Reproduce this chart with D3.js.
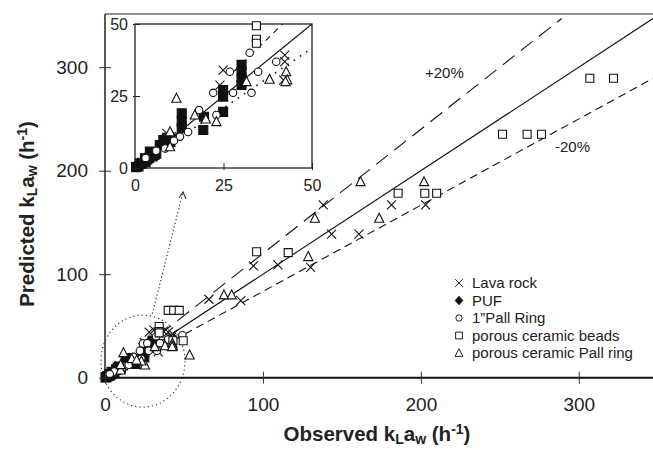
<!DOCTYPE html>
<html>
<head>
<meta charset="utf-8">
<script src="https://cdn.jsdelivr.net/npm/d3@7"></script>
<style>
body { margin: 0; background: #fff; }
text { font-family: "Liberation Sans", Arial, Helvetica, sans-serif; fill: #222; }
</style>
</head>
<body>
<div id="chart-container"></div>
<script>
// observed vs predicted kLaw (h-1), [observed, predicted]
var lava_rock = [[65.8,75.8],[86,74.5],[94,108],[109.5,109],[130.2,106.7],[138.2,166.9],[143.5,138.8],[160.8,138.8],[181.4,166.9],[203,166.9],
	[28,44],[31,46],[34,43],[37,45],[40,44],[43,42],[33.7,25]];
var ceramic_beads = [[40,65],[43.5,65],[47,65],[43,35.7],[49.5,35.7],[96,121.7],[116,120.8],[185.6,178.2],[202.5,178.2],[210,178.2],
	[251.7,235.2],[267.3,235.2],[276.4,235.2],[307,289.3],[322,289.3]];
var ceramic_pall = [[25.3,12.3],[53.6,21.9],[75.3,80],[80.2,80],[128.7,117],[132.9,154],[161.8,189.4],[173.6,154],[202,189.4]];
var pall_ring = [[24,33],[49,41]];

// inset (0-50), same series
var inset_puf = [[0.3,0.3],[1,0.5],[1.4,1.6],[2,1.5],[2.8,3.4],[3,2],[3.5,3],[4,3.5],[4.2,5.7],[5,4],[5.5,4.5],[6,5],[7,8],[8,9.7],[9,10.5],[10,9],
	[13.2,19],[13.2,16.1],[13.2,13.8],[19.3,13.2],[19.5,17.8],[24.9,27.1],[24.9,24.8],[24.9,19.5],[30.1,35.8],[30.1,33.4],[30.1,31.1],[30.1,28.8]];
var inset_lava = [[24.9,34],[24,28.8],[42.3,39.2],[42.3,36.9],[42,30.5],[10.3,10.9],[9,12],[11.5,11.5],[2,2],[5,5.5],[7.5,7]];
var inset_pall_ring = [[32.4,40],[26.8,33.4],[34.8,33.4],[39.9,36.9],[22.1,26.1],[27.7,26.1],[32.9,26.1],[18.1,20.1],[23,18.4],
	[12.7,10.9],[8.5,6.8],[11,9.5],[15,12.5],[6,6],[3,3.5]];
var inset_beads = [[34.3,49.4],[34.3,44.7],[34.3,43.3]];
var inset_ceramic_pall = [[11.7,24.2],[23,16.1],[31.5,30],[38,30.8],[42.7,33.4],[43,30.6],[42.5,30],[9.9,7.4],[9.9,12.6],[16.9,18.4],[20,17]];

var x_ticks = [0, 100, 200, 300];
var y_ticks = [0, 100, 200, 300];
var inset_ticks = [0, 25, 50];
var legend_labels = ["Lava rock", "PUF", "1\u201dPall Ring", "porous ceramic beads", "porous ceramic Pall ring"];
var legend_types = ["x", "diamond", "circle", "square", "triangle"];

var svg_width = 653;
var svg_height = 450;

var svg = d3.select("#chart-container")
	.append("svg")
	.attr("width", svg_width)
	.attr("height", svg_height);

var x = d3.scaleLinear().domain([0, 347]).range([105, 653]);
var y = d3.scaleLinear().domain([0, 351.4]).range([377.7, 14]);

var ix = d3.scaleLinear().domain([0, 50]).range([135, 312]);
var iy = d3.scaleLinear().domain([0, 50]).range([168, 24]);

function marker_path(type) {
	if (type == "x") return "M-4.5,-4.5L4.5,4.5M-4.5,4.5L4.5,-4.5";
	if (type == "square") return "M-4,-4H4V4H-4Z";
	if (type == "fsquare") return "M-4.5,-4.5H4.5V4.5H-4.5Z";
	if (type == "triangle") return "M0,-5L4.6,4L-4.6,4Z";
	if (type == "circle") return d3.symbol(d3.symbolCircle, 44)();
	if (type == "diamond") return "M0,-5L4.5,0L0,5L-4.5,0Z";
}

function draw_marks(g, data, type, sx, sy) {
	var filled = (type == "fsquare" || type == "diamond");
	g.append("g").selectAll("path")
		.data(data)
		.enter()
		.append("path")
		.attr("d", marker_path(type))
		.attr("transform", function(d) { return "translate(" + sx(d[0]) + "," + sy(d[1]) + ")"; })
		.attr("fill", filled ? "#111" : (type == "x" ? "none" : "#fff"))
		.attr("stroke", "#111")
		.attr("stroke-width", 1.1);
}

// main frame
svg.append("line").attr("x1", x(0)).attr("x2", svg_width).attr("y1", y(351.4)).attr("y2", y(351.4))
	.attr("stroke", "#222").attr("stroke-width", 1);
svg.append("line").attr("x1", x(0)).attr("x2", x(0)).attr("y1", y(351.4)).attr("y2", y(0))
	.attr("stroke", "#222").attr("stroke-width", 1.5);

// reference lines: 1:1, +20%, -20%
var line = d3.line().x(function(d) { return x(d[0]); }).y(function(d) { return y(d[1]); });
svg.append("path").attr("d", line([[0,0],[347,347]])).attr("stroke", "#111").attr("stroke-width", 1.1).attr("fill", "none");
svg.append("path").attr("d", line([[0,0],[347/1.2 ,347]])).attr("stroke", "#111").attr("stroke-width", 1.1)
	.attr("stroke-dasharray", "15,8").attr("fill", "none");
svg.append("path").attr("d", line([[0,0],[347,347/1.2]])).attr("stroke", "#111").attr("stroke-width", 1.1)
	.attr("stroke-dasharray", "8,5").attr("fill", "none");

svg.append("text").attr("x", 425).attr("y", 78).attr("font-size", 15).text("+20%");
svg.append("text").attr("x", 555).attr("y", 152).attr("font-size", 15).text("-20%");

// dotted zoom ellipse + arrow
svg.append("ellipse").attr("cx", x(24)).attr("cy", y(16)).attr("rx", 42).attr("ry", 46)
	.attr("fill", "none").attr("stroke", "#333").attr("stroke-width", 1.2).attr("stroke-dasharray", "1.2,3");
svg.append("line").attr("x1", x(30)).attr("y1", y(62)).attr("x2", x(49.4)).attr("y2", y(179.4))
	.attr("stroke", "#333").attr("stroke-width", 1.2).attr("stroke-dasharray", "1.2,2.5");
svg.append("path")
	.attr("d", "M" + (x(49.4) - 4) + "," + (y(179.4) + 6) + "L" + x(49.4) + "," + y(179.4) + "L" + (x(49.4) + 3) + "," + (y(179.4) + 7))
	.attr("stroke", "#333").attr("stroke-width", 1.1).attr("fill", "none");

// main markers
var gm = svg.append("g");
draw_marks(gm, inset_puf, "fsquare", x, y);
draw_marks(gm, lava_rock.concat(inset_lava), "x", x, y);
draw_marks(gm, pall_ring.concat(inset_pall_ring), "circle", x, y);
draw_marks(gm, ceramic_beads.concat(inset_beads), "square", x, y);
draw_marks(gm, ceramic_pall.concat(inset_ceramic_pall), "triangle", x, y);

// main axes
var xAxis = svg.append("g").attr("transform", "translate(0," + y(0) + ")")
	.call(d3.axisBottom(x).tickValues(x_ticks).tickSizeInner(5).tickSizeOuter(0).tickPadding(10));
xAxis.select(".domain").attr("d", "M" + x(0) + ",0H" + svg_width).attr("stroke", "#111").attr("stroke-width", 2);
xAxis.selectAll(".tick line").attr("y1", -6).attr("y2", 6).attr("stroke", "#333");
xAxis.selectAll(".tick text").attr("font-size", 19).attr("fill", "#222").attr("font-family", null).attr("dy", "0.95em");

var yAxis = svg.append("g").attr("transform", "translate(" + x(0) + ",0)")
	.call(d3.axisLeft(y).tickValues(y_ticks).tickSizeInner(5).tickSizeOuter(0).tickPadding(12));
yAxis.select(".domain").remove();
yAxis.selectAll(".tick line").attr("x1", -6).attr("x2", 6).attr("stroke", "#333");
yAxis.selectAll(".tick text").attr("font-size", 19).attr("fill", "#222").attr("font-family", null);

// axis titles
function title_spans(t, label) {
	t.append("tspan").text(label + " k");
	t.append("tspan").attr("baseline-shift", "-3").attr("font-size", 14).text("L");
	t.append("tspan").text("a");
	t.append("tspan").attr("baseline-shift", "-3").attr("font-size", 14).text("w");
	t.append("tspan").text(" (h");
	t.append("tspan").attr("baseline-shift", "7").attr("font-size", 14).text("-1");
	t.append("tspan").text(")");
}
var xt = svg.append("text").attr("x", 377).attr("y", 441).attr("text-anchor", "middle")
	.attr("font-size", 20.5).attr("font-weight", "bold");
title_spans(xt, "Observed");

var yt = svg.append("text").attr("transform", "translate(34,214) rotate(-90)").attr("text-anchor", "middle")
	.attr("font-size", 20.5).attr("font-weight", "bold");
title_spans(yt, "Predicted");

// legend
var legend = svg.append("g").selectAll("g")
	.data(legend_labels)
	.enter()
	.append("g")
	.attr("transform", function(d, i) { return "translate(459," + (283 + i * 17.5) + ")"; });
legend.append("path")
	.attr("d", function(d, i) { return marker_path(legend_types[i]); })
	.attr("transform", "scale(0.85)")
	.attr("fill", function(d, i) { return legend_types[i] == "diamond" ? "#111" : (legend_types[i] == "x" ? "none" : "#fff"); })
	.attr("stroke", "#111").attr("stroke-width", 1.1);
legend.append("text").attr("x", 13).attr("dy", "0.36em").attr("font-size", 15).text(function(d) { return d; });

// inset
var gi = svg.append("g");
gi.append("rect").attr("x", ix(0)).attr("y", iy(50)).attr("width", ix(50) - ix(0)).attr("height", iy(0) - iy(50))
	.attr("fill", "#fff").attr("stroke", "#222").attr("stroke-width", 1.3);

var iline = d3.line().x(function(d) { return ix(d[0]); }).y(function(d) { return iy(d[1]); });
gi.append("path").attr("d", iline([[0,0],[50,50]])).attr("stroke", "#111").attr("stroke-width", 1.1).attr("fill", "none");
gi.append("path").attr("d", iline([[28,33.6],[41.7,50]])).attr("stroke", "#111").attr("stroke-width", 1.1)
	.attr("stroke-dasharray", "6,5").attr("fill", "none");
gi.append("path").attr("d", iline([[15,12.5],[49,40.8]])).attr("stroke", "#111").attr("stroke-width", 1.6)
	.attr("stroke-dasharray", "1.5,6").attr("fill", "none");

draw_marks(gi, inset_puf, "fsquare", ix, iy);
draw_marks(gi, inset_lava, "x", ix, iy);
draw_marks(gi, inset_pall_ring, "circle", ix, iy);
draw_marks(gi, inset_beads, "square", ix, iy);
draw_marks(gi, inset_ceramic_pall, "triangle", ix, iy);

var ixAxis = gi.append("g").attr("transform", "translate(0," + iy(0) + ")")
	.call(d3.axisBottom(ix).tickValues(inset_ticks).tickSize(0).tickPadding(9));
ixAxis.select(".domain").remove();
ixAxis.selectAll(".tick").append("line").attr("y1", -5).attr("y2", 2).attr("stroke", "#222");
ixAxis.selectAll(".tick text").attr("font-size", 16).attr("fill", "#222").attr("font-family", null).attr("dy", "0.85em");

var iyAxis = gi.append("g").attr("transform", "translate(" + ix(0) + ",0)")
	.call(d3.axisLeft(iy).tickValues(inset_ticks).tickSize(0).tickPadding(7));
iyAxis.select(".domain").remove();
iyAxis.selectAll(".tick").append("line").attr("x1", -2).attr("x2", 5).attr("stroke", "#222");
iyAxis.selectAll(".tick text").attr("font-size", 16).attr("fill", "#222").attr("font-family", null);
</script>
</body>
</html>
